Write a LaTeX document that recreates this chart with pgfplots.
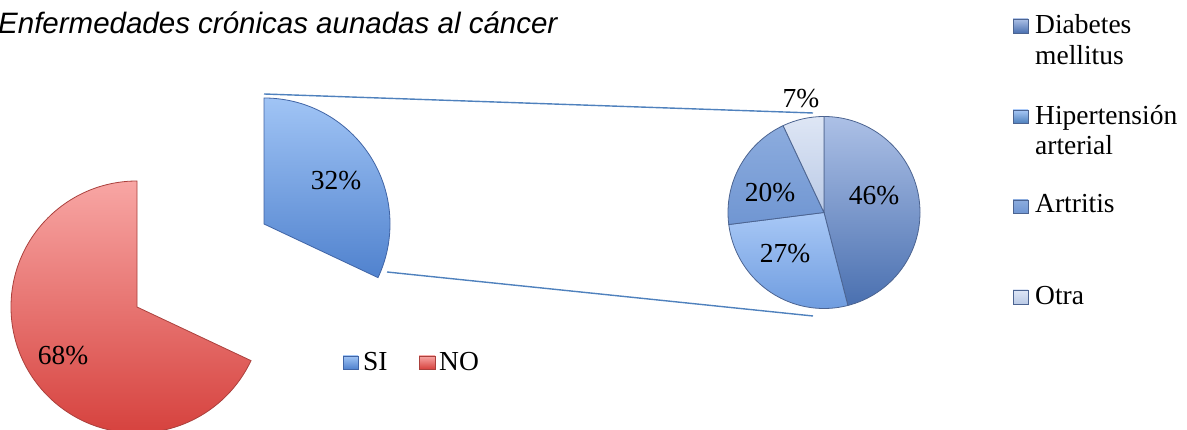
\documentclass[border=0pt]{standalone}
\usepackage{fontspec}
\usepackage{pgfplots}
\pgfplotsset{compat=1.18}
\usepackage{pgfplotstable}
\newfontfamily\titlefont{Liberation Sans}
\newfontfamily\serfont{Liberation Serif}

\definecolor{noTop}{RGB}{248,166,164}
\definecolor{noBot}{RGB}{214,66,62}
\definecolor{noEdge}{RGB}{170,64,60}
\definecolor{siTop}{RGB}{160,196,245}
\definecolor{siBot}{RGB}{80,130,206}
\definecolor{siEdge}{RGB}{64,100,165}
\definecolor{diaTop}{RGB}{172,192,230}
\definecolor{diaBot}{RGB}{74,112,176}
\definecolor{hipTop}{RGB}{168,200,246}
\definecolor{hipBot}{RGB}{108,154,222}
\definecolor{artTop}{RGB}{140,172,222}
\definecolor{artBot}{RGB}{112,150,210}
\definecolor{otrTop}{RGB}{222,230,245}
\definecolor{otrBot}{RGB}{186,202,230}
\definecolor{subEdge}{RGB}{76,100,145}
\definecolor{lineblue}{RGB}{79,129,189}

\pgfplotstableread{
label value
SI 32
NO 68
}\maintable

\pgfplotstableread{
label value
Diabetes 46
Hipertension 27
Artritis 20
Otra 7
}\subtable

\newcommand\lblfont{\serfont\fontsize{27.5}{30}\selectfont}
\newcommand\legfont{\serfont\fontsize{27.5}{30}\selectfont}

\begin{document}
\begin{tikzpicture}
\pgfplotstablegetelem{0}{value}\of\maintable \pgfmathsetmacro\vSI{\pgfplotsretval}
\pgfplotstablegetelem{1}{value}\of\maintable \pgfmathsetmacro\vNO{\pgfplotsretval}
\pgfplotstablegetelem{0}{value}\of\subtable \pgfmathsetmacro\vDia{\pgfplotsretval}
\pgfplotstablegetelem{1}{value}\of\subtable \pgfmathsetmacro\vHip{\pgfplotsretval}
\pgfplotstablegetelem{2}{value}\of\subtable \pgfmathsetmacro\vArt{\pgfplotsretval}
\pgfplotstablegetelem{3}{value}\of\subtable \pgfmathsetmacro\vOtr{\pgfplotsretval}
\pgfmathsetmacro\aSIend{90-3.6*\vSI}
\pgfmathsetmacro\aNOend{90+3.6*\vNO}
\pgfmathsetmacro\aA{90-3.6*\vDia}
\pgfmathsetmacro\aB{\aA-3.6*\vHip}
\pgfmathsetmacro\aC{\aB-3.6*\vArt}
\pgfmathsetmacro\aD{\aC-3.6*\vOtr}
\begin{axis}[x=1pt,y=1pt,xmin=0,xmax=1187,ymin=0,ymax=430,
  hide axis, clip=true, enlargelimits=false]
% connector lines
\addplot[no marks, color=lineblue, line width=1.4pt] coordinates {(264,336) (813,317)};
\addplot[no marks, color=lineblue, line width=1.4pt] coordinates {(387,158) (813,114)};
% NO slice
\path[draw=noEdge, line width=0.8pt, top color=noTop, bottom color=noBot]
  (axis cs:137,123) -- ++(90:126pt) arc[start angle=90,end angle=\aNOend,radius=126pt] -- cycle;
% SI slice (exploded)
\path[draw=siEdge, line width=0.8pt, top color=siTop, bottom color=siBot]
  (axis cs:264,206) -- ++(90:126pt) arc[start angle=90,end angle=\aSIend,radius=126pt] -- cycle;
% secondary pie
\path[draw=subEdge, line width=0.8pt, top color=diaTop, bottom color=diaBot]
  (axis cs:824,217.5) -- ++(90:96pt) arc[start angle=90,end angle=\aA,radius=96pt] -- cycle;
\path[draw=subEdge, line width=0.8pt, top color=hipTop, bottom color=hipBot]
  (axis cs:824,217.5) -- ++(\aA:96pt) arc[start angle=\aA,end angle=\aB,radius=96pt] -- cycle;
\path[draw=subEdge, line width=0.8pt, top color=artTop, bottom color=artBot]
  (axis cs:824,217.5) -- ++(\aB:96pt) arc[start angle=\aB,end angle=\aC,radius=96pt] -- cycle;
\path[draw=subEdge, line width=0.8pt, top color=otrTop, bottom color=otrBot]
  (axis cs:824,217.5) -- ++(\aC:96pt) arc[start angle=\aC,end angle=\aD,radius=96pt] -- cycle;
% data labels
\node[anchor=base, inner sep=0, font=\lblfont] at (axis cs:63,65) {68\%};
\node[anchor=base, inner sep=0, font=\lblfont] at (axis cs:336,240) {32\%};
\node[anchor=base, inner sep=0, font=\lblfont] at (axis cs:874,225) {46\%};
\node[anchor=base, inner sep=0, font=\lblfont] at (axis cs:785,167) {27\%};
\node[anchor=base, inner sep=0, font=\lblfont] at (axis cs:770,228) {20\%};
\node[anchor=base, inner sep=0, font=\lblfont] at (axis cs:801,322) {7\%};
% title
\node[anchor=base west, inner sep=0, font=\titlefont\itshape\fontsize{29.5}{32}\selectfont]
  at (axis cs:-2,396) {Enfermedades crónicas aunadas al cáncer};
% legend SI / NO
\path[draw=siEdge, line width=0.5pt, top color=siTop, bottom color=siBot] (axis cs:343,61) rectangle (axis cs:358,74);
\node[anchor=base west, inner sep=0, font=\legfont] at (axis cs:363,59.5) {SI};
\path[draw=noEdge, line width=0.5pt, top color=noTop, bottom color=noBot] (axis cs:419,61) rectangle (axis cs:435,74);
\node[anchor=base west, inner sep=0, font=\legfont] at (axis cs:439,59.5) {NO};
% legend secondary
\path[draw=subEdge, line width=0.5pt, top color=diaTop, bottom color=diaBot] (axis cs:1013,397) rectangle (axis cs:1028,411);
\node[anchor=base west, inner sep=0, font=\legfont] at (axis cs:1035,396) {Diabetes};
\node[anchor=base west, inner sep=0, font=\legfont] at (axis cs:1035,365) {mellitus};
\path[draw=subEdge, line width=0.5pt, top color=hipTop, bottom color=lineblue] (axis cs:1013,307) rectangle (axis cs:1028,320);
\node[anchor=base west, inner sep=0, font=\legfont] at (axis cs:1035,305) {Hipertensión};
\node[anchor=base west, inner sep=0, font=\legfont] at (axis cs:1035,275) {arterial};
\path[draw=subEdge, line width=0.5pt, top color=artTop, bottom color=artBot] (axis cs:1013,217) rectangle (axis cs:1028,230);
\node[anchor=base west, inner sep=0, font=\legfont] at (axis cs:1035,217) {Artritis};
\path[draw=subEdge, line width=0.5pt, top color=otrTop, bottom color=otrBot] (axis cs:1013,126) rectangle (axis cs:1028,140);
\node[anchor=base west, inner sep=0, font=\legfont] at (axis cs:1035,125) {Otra};
\end{axis}
\pgfresetboundingbox
\useasboundingbox (current axis.south west) rectangle (current axis.north east);
\end{tikzpicture}
\end{document}
